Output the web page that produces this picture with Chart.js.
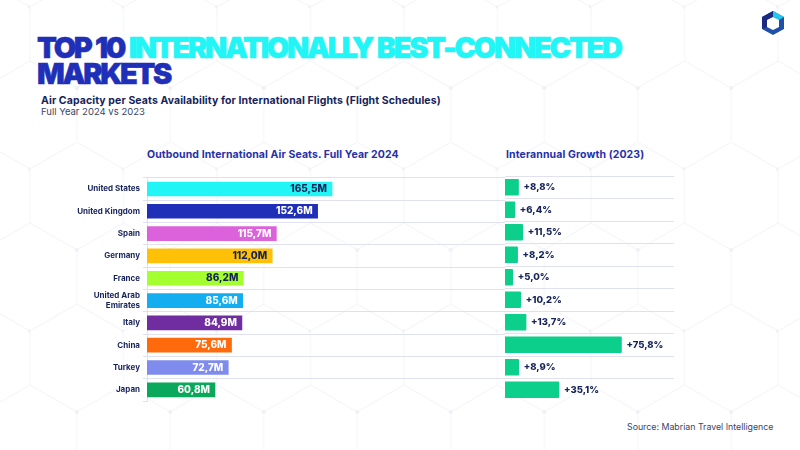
<!DOCTYPE html>
<html>
<head>
<meta charset="utf-8">
<script src="https://cdn.jsdelivr.net/npm/chart.js@4"></script>
<style>
  html, body { margin: 0; padding: 0; background: #fff; }
  #page { position: relative; width: 800px; height: 450px; overflow: hidden; font-family: Inter, sans-serif; }
  #page div, #page canvas, #page svg { position: absolute; }
  .title { left: 37px; font-size: 29px; line-height: 26px; font-weight: 900; letter-spacing: -2.3px; word-spacing: 1px; color: #1f2fb8; white-space: nowrap; -webkit-text-stroke: 0.5px currentColor; }
  .title span { color: #22f5f5; }
  .head { top: 148px; font-size: 10.5px; font-weight: 700; color: #2730a8; white-space: nowrap; letter-spacing: 0.1px; }
</style>
</head>
<body>
<div id="page">
  <!-- faint hexagon backdrop -->
  <svg width="800" height="450" style="left:0;top:0">
    <defs>
      <pattern id="hex" width="93.5" height="162" patternUnits="userSpaceOnUse" patternTransform="translate(30 -20)">
        <path d="M46.75 0 L93.5 27 L93.5 81 L46.75 108 L0 81 L0 27 Z M46.75 108 L46.75 162" fill="none" stroke="#f4f5fa" stroke-width="1"/>
        <circle cx="46.75" cy="108" r="2" fill="#eff0f6"/>
        <circle cx="93.5" cy="27" r="2" fill="#eff0f6"/>
      </pattern>
    </defs>
    <rect width="800" height="450" fill="url(#hex)"/>
    <!-- logo -->
    <polygon points="773,11 784,17 784,29 773,35 762,29 762,17" fill="#1f4fa8"/>
    <polygon points="773,11 784,17 779,20 773,17" fill="#22c8e8"/>
    <polygon points="762,17 773,11 773,17 767,20 767,27 762,29" fill="#1b2a80"/>
    <polygon points="773,17 779,20 779,27 773,30 767,27 767,20" fill="#fff"/>
  </svg>

  <div class="title" style="top:35px">TOP 10 <span>INTERNATIONALLY BEST-CONNECTED</span><br>MARKETS</div>
  <div style="left:41px;top:94px;font-size:10.5px;font-weight:700;color:#16235a;white-space:nowrap;letter-spacing:0.1px">Air Capacity per Seats Availability for International Flights (Flight Schedules)</div>
  <div style="left:41px;top:106px;font-size:9.5px;color:#3a4468;white-space:nowrap">Full Year 2024 vs 2023</div>
  <div class="head" style="left:147px">Outbound International Air Seats. Full Year 2024</div>
  <div class="head" style="left:506px">Interannual Growth (2023)</div>
  <div style="left:627px;top:421px;font-size:8.8px;color:#3a4468;white-space:nowrap">Source: Mabrian Travel Intelligence</div>

  <canvas id="seats" width="505" height="240" style="left:0;top:170px"></canvas>
  <canvas id="growth" width="169" height="240" style="left:505px;top:170px"></canvas>
</div>

<script>
const markets = ['United States', 'United Kingdom', 'Spain', 'Germany', 'France',
                 ['United Arab', 'Emirates'], 'Italy', 'China', 'Turkey', 'Japan'];
const seats = [165.5, 152.6, 115.7, 112.0, 86.2, 85.6, 84.9, 75.6, 72.7, 60.8];
const growth = [8.8, 6.4, 11.5, 8.2, 5.0, 10.2, 13.7, 75.8, 8.9, 35.1];
const seatColors = ['#22f5f5', '#1f2fb8', '#dc62dc', '#ffc107', '#a4ff2e',
                    '#12aef0', '#6f2da0', '#ff6a0d', '#7f8cee', '#0aa85a'];
const seatLabelColors = ['#16235a', '#fff', '#fff', '#16235a', '#16235a',
                         '#fff', '#fff', '#fff', '#fff', '#fff'];
const growthColor = '#0ccf8b';
const gridColor = '#dfe1f0';

const comma = (v, d) => v.toFixed(d).replace('.', ',');

// only chart.js is available, so the value labels are a small plugin
const valueLabels = {
  id: 'valueLabels',
  afterDatasetsDraw(chart, args, opts) {
    const ctx = chart.ctx;
    ctx.save();
    ctx.font = opts.font;
    ctx.textBaseline = 'middle';
    ctx.textAlign = opts.inside ? 'right' : 'left';
    chart.getDatasetMeta(0).data.forEach((bar, i) => {
      ctx.fillStyle = opts.colors ? opts.colors[i] : '#16235a';
      const x = opts.inside ? bar.x - 5 : bar.x + 5;
      ctx.fillText(opts.format(chart.data.datasets[0].data[i]), x, bar.y);
    });
    ctx.restore();
  }
};

function makeBars(container, values, colors, thickness, xMax, axisWidth, showLabels, labelOpts) {
  return new Chart(document.getElementById(container).getContext('2d'), {
    type: 'bar',
    data: {
      labels: markets,
      datasets: [{ data: values, backgroundColor: colors, barThickness: thickness, borderRadius: showLabels ? 0 : 1 }]
    },
    plugins: [valueLabels],
    options: {
      indexAxis: 'y',
      responsive: false,
      animation: false,
      layout: { padding: { top: 6, bottom: 9, left: 0, right: 0 } },
      plugins: {
        legend: { display: false },
        tooltip: { enabled: false },
        valueLabels: labelOpts
      },
      scales: {
        x: { display: false, min: 0, max: xMax },
        y: {
          afterFit(axis) { axis.width = axisWidth; },
          border: { display: showLabels, color: gridColor },
          grid: {
            // no rule under the last row: that closing line has no tick index
            color: c => c.index === undefined ? 'transparent' : gridColor,
            tickColor: gridColor,
            lineWidth: 1,
            drawTicks: showLabels,
            tickLength: 4
          },
          ticks: {
            display: showLabels,
            autoSkip: false,
            padding: 3,
            color: '#16235a',
            font: { family: 'Inter', size: 8, weight: '700', lineHeight: 1.2 }
          }
        }
      }
    }
  });
}

makeBars('seats', seats, seatColors, 14, 320.2, 147, true, {
  inside: true,
  colors: seatLabelColors,
  font: '800 10px Inter',
  format: v => comma(v, 1) + 'M'
});

makeBars('growth', growth, growthColor, 16, 110, 0, false, {
  inside: false,
  font: '800 9.5px Inter',
  format: v => '+' + comma(v, 1) + '%'
});
</script>
</body>
</html>
